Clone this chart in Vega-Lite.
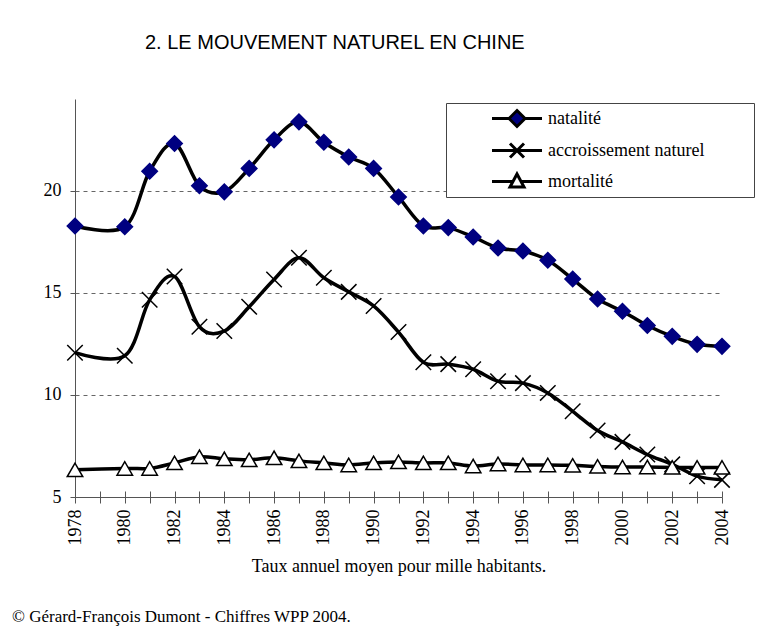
{
  "$schema": "https://vega.github.io/schema/vega-lite/v6.json",
  "background": "white",
  "padding": {"left": 12, "top": 33, "right": 5, "bottom": 5},
  "title": {
    "text": "© Gérard-François Dumont - Chiffres WPP 2004.",
    "orient": "bottom",
    "anchor": "start",
    "frame": "bounds",
    "dx": -31,
    "offset": 34,
    "font": "Liberation Serif",
    "fontSize": 17,
    "fontWeight": "normal",
    "color": "black"
  },
  "vconcat": [
    {
      "title": {
        "text": "2. LE MOUVEMENT NATUREL EN CHINE",
        "anchor": "start",
        "frame": "group",
        "dx": 70,
        "offset": 46,
        "font": "Liberation Sans",
        "fontSize": 20,
        "fontWeight": "normal",
        "color": "black"
      },
      "width": 647,
      "height": 398,
      "data": {
        "values": [
          {"year": 1978, "series": "natalité", "value": 18.28},
          {"year": 1980, "series": "natalité", "value": 18.24},
          {"year": 1981, "series": "natalité", "value": 20.96},
          {"year": 1982, "series": "natalité", "value": 22.32},
          {"year": 1983, "series": "natalité", "value": 20.25},
          {"year": 1984, "series": "natalité", "value": 19.95},
          {"year": 1985, "series": "natalité", "value": 21.1},
          {"year": 1986, "series": "natalité", "value": 22.5},
          {"year": 1987, "series": "natalité", "value": 23.38},
          {"year": 1988, "series": "natalité", "value": 22.38},
          {"year": 1989, "series": "natalité", "value": 21.66},
          {"year": 1990, "series": "natalité", "value": 21.1},
          {"year": 1991, "series": "natalité", "value": 19.7},
          {"year": 1992, "series": "natalité", "value": 18.28},
          {"year": 1993, "series": "natalité", "value": 18.2},
          {"year": 1994, "series": "natalité", "value": 17.74},
          {"year": 1995, "series": "natalité", "value": 17.2},
          {"year": 1996, "series": "natalité", "value": 17.05},
          {"year": 1997, "series": "natalité", "value": 16.6},
          {"year": 1998, "series": "natalité", "value": 15.68},
          {"year": 1999, "series": "natalité", "value": 14.7},
          {"year": 2000, "series": "natalité", "value": 14.1},
          {"year": 2001, "series": "natalité", "value": 13.4},
          {"year": 2002, "series": "natalité", "value": 12.87},
          {"year": 2003, "series": "natalité", "value": 12.48},
          {"year": 2004, "series": "natalité", "value": 12.38},
          {"year": 1978, "series": "accroissement naturel", "value": 12.07},
          {"year": 1980, "series": "accroissement naturel", "value": 11.92},
          {"year": 1981, "series": "accroissement naturel", "value": 14.66},
          {"year": 1982, "series": "accroissement naturel", "value": 15.8},
          {"year": 1983, "series": "accroissement naturel", "value": 13.34},
          {"year": 1984, "series": "accroissement naturel", "value": 13.13},
          {"year": 1985, "series": "accroissement naturel", "value": 14.32},
          {"year": 1986, "series": "accroissement naturel", "value": 15.66},
          {"year": 1987, "series": "accroissement naturel", "value": 16.72},
          {"year": 1988, "series": "accroissement naturel", "value": 15.74},
          {"year": 1989, "series": "accroissement naturel", "value": 15.05},
          {"year": 1990, "series": "accroissement naturel", "value": 14.36},
          {"year": 1991, "series": "accroissement naturel", "value": 13.08},
          {"year": 1992, "series": "accroissement naturel", "value": 11.6},
          {"year": 1993, "series": "accroissement naturel", "value": 11.51},
          {"year": 1994, "series": "accroissement naturel", "value": 11.26},
          {"year": 1995, "series": "accroissement naturel", "value": 10.67},
          {"year": 1996, "series": "accroissement naturel", "value": 10.58},
          {"year": 1997, "series": "accroissement naturel", "value": 10.1},
          {"year": 1998, "series": "accroissement naturel", "value": 9.2},
          {"year": 1999, "series": "accroissement naturel", "value": 8.26},
          {"year": 2000, "series": "accroissement naturel", "value": 7.7},
          {"year": 2001, "series": "accroissement naturel", "value": 7.08},
          {"year": 2002, "series": "accroissement naturel", "value": 6.6},
          {"year": 2003, "series": "accroissement naturel", "value": 6.02},
          {"year": 2004, "series": "accroissement naturel", "value": 5.84},
          {"year": 1978, "series": "mortalité", "value": 6.33},
          {"year": 1980, "series": "mortalité", "value": 6.4},
          {"year": 1981, "series": "mortalité", "value": 6.4},
          {"year": 1982, "series": "mortalité", "value": 6.67},
          {"year": 1983, "series": "mortalité", "value": 6.97},
          {"year": 1984, "series": "mortalité", "value": 6.87},
          {"year": 1985, "series": "mortalité", "value": 6.82},
          {"year": 1986, "series": "mortalité", "value": 6.92},
          {"year": 1987, "series": "mortalité", "value": 6.77},
          {"year": 1988, "series": "mortalité", "value": 6.67},
          {"year": 1989, "series": "mortalité", "value": 6.57},
          {"year": 1990, "series": "mortalité", "value": 6.67},
          {"year": 1991, "series": "mortalité", "value": 6.72},
          {"year": 1992, "series": "mortalité", "value": 6.67},
          {"year": 1993, "series": "mortalité", "value": 6.67},
          {"year": 1994, "series": "mortalité", "value": 6.52},
          {"year": 1995, "series": "mortalité", "value": 6.62},
          {"year": 1996, "series": "mortalité", "value": 6.57},
          {"year": 1997, "series": "mortalité", "value": 6.57},
          {"year": 1998, "series": "mortalité", "value": 6.55},
          {"year": 1999, "series": "mortalité", "value": 6.5},
          {"year": 2000, "series": "mortalité", "value": 6.47},
          {"year": 2001, "series": "mortalité", "value": 6.47},
          {"year": 2002, "series": "mortalité", "value": 6.45},
          {"year": 2003, "series": "mortalité", "value": 6.45},
          {"year": 2004, "series": "mortalité", "value": 6.45}
        ]
      },
      "layer": [
        {
          "mark": {"type": "line", "interpolate": "cardinal", "strokeWidth": 3.5, "color": "black"},
          "encoding": {
            "x": {
              "field": "year", "type": "quantitative",
              "scale": {"domain": [1978, 2004], "nice": false, "zero": false},
              "axis": {
                "title": "Taux annuel moyen pour mille habitants.",
                "values": [1978,1979,1980,1981,1982,1983,1984,1985,1986,1987,1988,1989,1990,1991,1992,1993,1994,1995,1996,1997,1998,1999,2000,2001,2002,2003,2004],
                "format": "d",
                "labelExpr": "datum.value % 2 == 0 ? datum.label : ''",
                "labelAngle": -90,
                "labelPadding": 6,
                "tickSize": 6,
                "grid": false,
                "labelOverlap": false,
                "labelFlush": false,
                "titlePadding": 12
              }
            },
            "y": {
              "field": "value", "type": "quantitative",
              "scale": {"domain": [5, 24.5], "nice": false, "zero": false},
              "axis": {
                "title": null,
                "values": [5, 10, 15, 20],
                "grid": true,
                "gridDash": [4, 4],
                "gridColor": "#666",
                "tickSize": 5,
                "labelPadding": 9
              }
            },
            "detail": {"field": "series"}
          }
        },
        {
          "mark": {"type": "point", "opacity": 1, "size": 240, "strokeWidth": 1.5},
          "encoding": {
            "x": {
              "field": "year", "type": "quantitative",
              "axis": {
                "orient": "bottom",
                "offset": -6,
                "values": [1978,1979,1980,1981,1982,1983,1984,1985,1986,1987,1988,1989,1990,1991,1992,1993,1994,1995,1996,1997,1998,1999,2000,2001,2002,2003,2004],
                "domain": false,
                "labels": false,
                "grid": false,
                "title": null,
                "tickSize": 6
              }
            },
            "y": {"field": "value", "type": "quantitative"},
            "shape": {
              "field": "series", "type": "nominal",
              "scale": {
                "domain": ["natalité", "accroissement naturel", "mortalité"],
                "range": ["diamond", "M-1,-1L1,1M1,-1L-1,1", "triangle-up"]
              },
              "legend": null
            },
            "fill": {
              "field": "series", "type": "nominal",
              "scale": {"domain": ["natalité", "accroissement naturel", "mortalité"], "range": ["#000080", "transparent", "white"]},
              "legend": null
            },
            "stroke": {
              "field": "series", "type": "nominal",
              "scale": {"domain": ["natalité", "accroissement naturel", "mortalité"], "range": ["#000080", "black", "black"]},
              "legend": null
            }
          }
        },
        {
          "mark": {"type": "point", "opacity": 0, "size": 10, "strokeWidth": 3},
          "encoding": {
            "x": {"field": "year", "type": "quantitative", "axis": null},
            "y": {"field": "value", "type": "quantitative"},
            "shape": {
              "field": "series", "type": "nominal",
              "scale": {
                "domain": ["natalité", "accroissement naturel", "mortalité"],
                "range": [
                  "M-2.5,0H-0.8M0.8,0H2.5M0,-0.8L0.8,0L0,0.8L-0.8,0ZM22.7,0",
                  "M-2.5,0H2.5M-0.7,-0.7L0.7,0.7M0.7,-0.7L-0.7,0.7M22.7,0",
                  "M-2.5,0H-0.4M0.4,0H2.5M0,-0.75L0.7,0.55L-0.7,0.55ZM22.7,0"
                ]
              },
              "legend": {
                "title": null,
                "orient": "none",
                "legendX": 371,
                "legendY": 4,
                "padding": 4,
                "strokeColor": "#444",
                "fillColor": "white",
                "rowPadding": 4,
                "symbolSize": 400,
                "symbolStrokeWidth": 3,
                "symbolStrokeColor": "black",
                "symbolOpacity": 1,
                "symbolOffset": 55.5,
                "labelOffset": 19.5,
                "labelFont": "Liberation Serif",
                "labelFontSize": 18,
                "labelColor": "black",
                "labelLimit": 400
              }
            },
            "fill": {
              "field": "series", "type": "nominal",
              "scale": {"domain": ["natalité", "accroissement naturel", "mortalité"], "range": ["#000080", "transparent", "white"]},
              "legend": {
                "title": null,
                "orient": "none",
                "legendX": 371,
                "legendY": 4
              }
            },
            "stroke": {
              "field": "series", "type": "nominal",
              "scale": {"domain": ["natalité", "accroissement naturel", "mortalité"], "range": ["black", "black", "black"]},
              "legend": {
                "title": null,
                "orient": "none",
                "legendX": 371,
                "legendY": 4
              }
            }
          }
        }
      ],
      "resolve": {"axis": {"x": "independent"}, "scale": {"shape": "independent", "fill": "independent", "stroke": "independent"}}
    }
  ],
  "config": {
    "view": {"stroke": null},
    "axis": {
      "labelFont": "Liberation Serif",
      "labelFontSize": 18,
      "labelColor": "black",
      "titleFont": "Liberation Serif",
      "titleFontSize": 18,
      "titleFontWeight": "normal",
      "titleColor": "black",
      "titlePadding": 10,
      "domainColor": "#555",
      "tickColor": "#555",
      "domainWidth": 1,
      "tickWidth": 1
    }
  }
}
